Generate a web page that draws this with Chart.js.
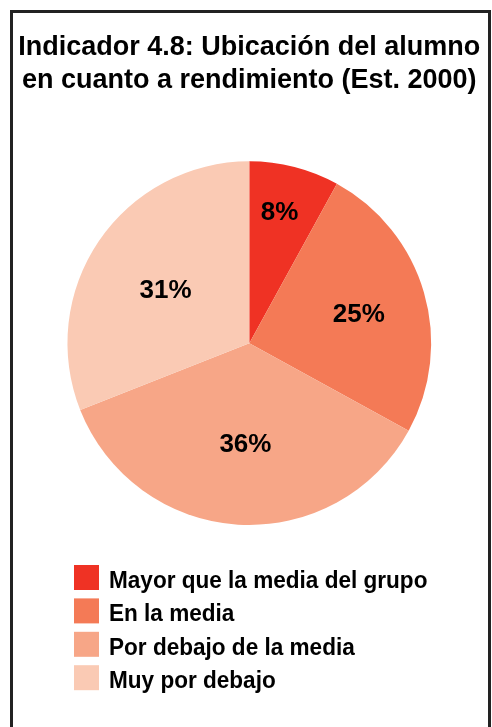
<!DOCTYPE html>
<html lang="es">
<head>
<meta charset="utf-8">
<title>Indicador 4.8</title>
<script src="https://cdn.jsdelivr.net/npm/chart.js@4.4.1/dist/chart.umd.min.js"></script>
<style>
  html, body { margin: 0; padding: 0; background: #fff; }
  body { width: 492px; height: 727px; position: relative; overflow: hidden; }
  .frame {
    position: absolute; left: 10px; top: 10px; width: 475px; height: 760px;
    border: 3px solid #222; border-bottom: none;
  }
  canvas { position: absolute; left: 0; top: 0; }
</style>
</head>
<body>
<div class="frame"></div>
<canvas id="pie" width="492" height="727"></canvas>
<script>
// Ubicación del alumno en cuanto a rendimiento (Est. 2000)
const titleLines = ['Indicador 4.8: Ubicación del alumno', 'en cuanto a rendimiento (Est. 2000)'];
const categories = ['Mayor que la media del grupo', 'En la media', 'Por debajo de la media', 'Muy por debajo'];
const percentages = [8, 25, 36, 31];
const sliceColors = ['#ef3224', '#f47a56', '#f7a687', '#facab4'];

const FONT = '"Liberation Sans", Arial, Helvetica, sans-serif';
Chart.defaults.font.family = FONT;

// percentage text inside each slice, pushed out along the mid angle
const sliceLabels = {
  id: 'sliceLabels',
  afterDatasetsDraw(chart, args, opts) {
    const ctx = chart.ctx;
    const meta = chart.getDatasetMeta(0);
    ctx.save();
    ctx.font = 'bold 26px ' + FONT;
    ctx.fillStyle = '#000';
    ctx.textAlign = 'center';
    ctx.textBaseline = 'middle';
    meta.data.forEach((arc, i) => {
      const p = arc.getProps(['x', 'y', 'startAngle', 'endAngle', 'outerRadius'], true);
      const mid = (p.startAngle + p.endAngle) / 2 + opts.angleShift[i];
      const r = p.outerRadius * opts.radius[i];
      ctx.fillText(percentages[i] + '%', p.x + Math.cos(mid) * r, p.y + Math.sin(mid) * r + 1.5);
    });
    ctx.restore();
  }
};

// one legend entry per row under the pie
const stackedLegend = {
  id: 'stackedLegend',
  afterDraw(chart, args, opts) {
    const ctx = chart.ctx;
    const top = chart.chartArea.bottom + opts.gap;
    ctx.save();
    ctx.font = 'bold 24px ' + FONT;
    ctx.textBaseline = 'alphabetic';
    chart.data.labels.forEach((label, i) => {
      const y = top + i * opts.rowHeight;
      ctx.fillStyle = sliceColors[i];
      ctx.fillRect(opts.x, y, opts.box, opts.box);
      ctx.fillStyle = '#000';
      ctx.save();
      ctx.translate(opts.textX, y + opts.box - 2);
      ctx.scale(opts.squeeze, 1);
      ctx.fillText(label, 0, 0);
      ctx.restore();
    });
    ctx.restore();
  }
};

new Chart(document.getElementById('pie'), {
  type: 'pie',
  data: {
    labels: categories,
    datasets: [{
      data: percentages,
      backgroundColor: sliceColors,
      borderWidth: 0,
      hoverOffset: 0,
      offset: 0
    }]
  },
  options: {
    responsive: false,
    animation: false,
    events: [],
    layout: { padding: { left: 6.6, right: 0, top: 0, bottom: 202 } },
    plugins: {
      legend: { display: false },
      tooltip: { enabled: false },
      title: {
        display: true,
        text: titleLines,
        color: '#000',
        font: { size: 27, weight: 'bold', lineHeight: 1.222 },
        padding: { top: 31, bottom: 64.3 }
      },
      sliceLabels: {
        radius: [0.746, 0.625, 0.551, 0.546],
        angleShift: [-0.026, 0.014, -0.024, -0.030]
      },
      stackedLegend: { gap: 40, rowHeight: 33.4, x: 74, box: 25, textX: 109, squeeze: 0.94 }
    }
  },
  plugins: [sliceLabels, stackedLegend]
});
</script>
</body>
</html>
